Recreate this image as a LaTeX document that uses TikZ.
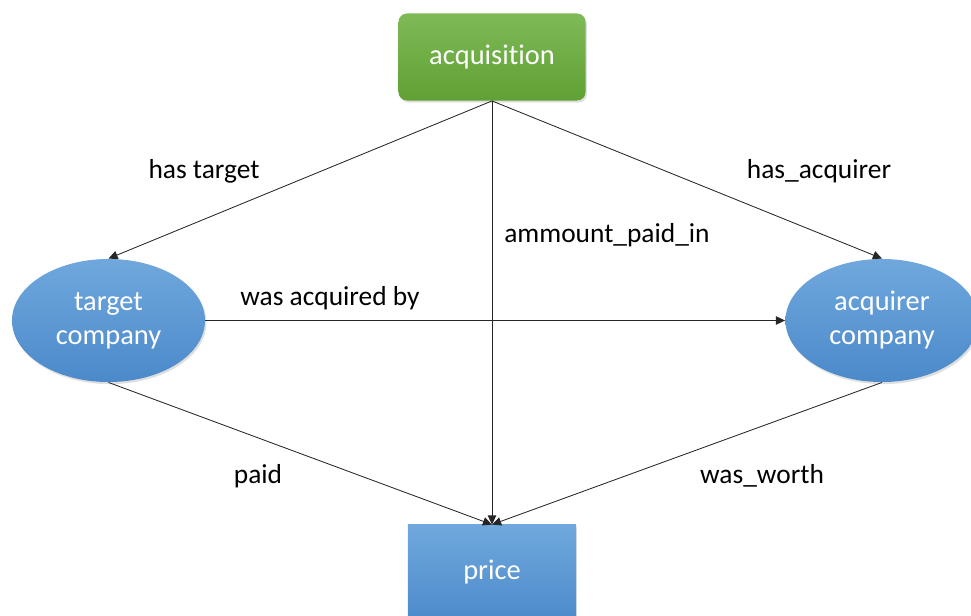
\documentclass[tikz,border=0pt]{standalone}
\usepackage{fontspec}
\setmainfont{Carlito}[Ligatures=NoCommon]
\usetikzlibrary{arrows.meta,shapes.geometric,shadows}
\definecolor{dgreentop}{HTML}{7EBA56}
\definecolor{dgreenbot}{HTML}{60A034}
\definecolor{dbluetop}{HTML}{70A8DD}
\definecolor{dbluebot}{HTML}{4B89CA}
\definecolor{dline}{HTML}{262626}

\tikzset{
  concept/.style={rounded corners=6pt, top color=dgreentop, bottom color=dgreenbot,
    text=white, minimum width=4.675cm, minimum height=2.175cm, font=\nodefont,
    drop shadow={opacity=0.25, shadow xshift=1pt, shadow yshift=-1.5pt}},
  entity/.style={ellipse, top color=dbluetop, bottom color=dbluebot, text=white,
    align=center, minimum width=4.825cm, minimum height=3.075cm, inner sep=0pt,
    font=\nodefont,
    drop shadow={opacity=0.25, shadow xshift=1pt, shadow yshift=-1.5pt}},
  value/.style={rectangle, top color=dbluetop, bottom color=dbluebot, text=white,
    minimum width=4.2cm, minimum height=2.5cm,
    drop shadow={opacity=0.25, shadow xshift=1pt, shadow yshift=-1.5pt}},
  rel/.style={dline, ->},
  rlabel/.style={text=black, inner sep=0pt}
}
\newcommand{\nodefont}{\fontsize{20.2}{24.2}\selectfont}

\begin{document}
\begin{tikzpicture}[x=0.025cm, y=-0.025cm, >={Triangle[length=6.5pt,width=6pt]},
    line width=0.6pt, font=\fontsize{19.5}{23.5}\selectfont]
  \useasboundingbox (0,0) rectangle (971,616);

  % the nodes
  \node[concept] (acq)   at (492,57)  {acquisition};
  \node[entity]  (tgt)   at (108.5,320.5) {target\\company};
  \node[entity]  (acqr)  at (882,320.5) {acquirer\\company};
  \node[value]   (price) at (492,575)   {};
  \node[text=white, font=\nodefont] (pricetxt) at (492,572) {price};

  % relations from the acquisition
  \draw[rel] (acq.south) -- (tgt.north);
  \draw[rel] (acq.south) -- (acqr.north);
  \draw[rel] (acq.south) -- (price.north);

  % relations between the companies and the price
  \draw[rel] (tgt.east) -- (acqr.west);
  \draw[rel] (tgt.south) -- (price.north);
  \draw[rel] (acqr.south) -- (price.north);

  % relation labels
  \node[rlabel] (lhastgt)  at (204,171) {has target};
  \node[rlabel] (lhasacq)  at (819,171) {has\_acquirer};
  \node[rlabel] (lamount)  at (607,235) {ammount\_paid\_in};
  \node[rlabel] (lwasacq)  at (330,298) {was acquired by};
  \node[rlabel] (lpaid)    at (258,476) {paid};
  \node[rlabel] (lworth)   at (762,476) {was\_worth};
\end{tikzpicture}
\end{document}
